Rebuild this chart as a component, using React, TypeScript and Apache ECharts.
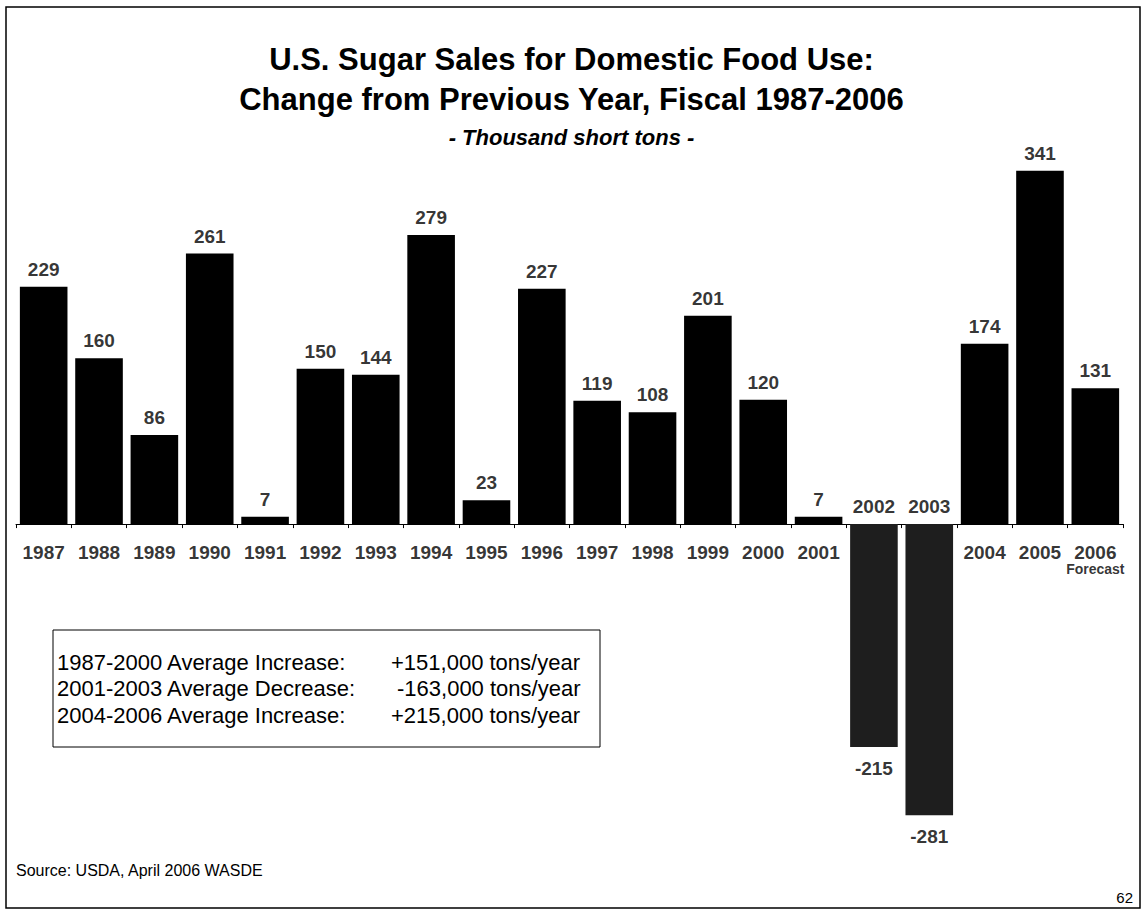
import React, { useEffect, useRef } from "react";
import * as echarts from "echarts";

const years = ["1987","1988","1989","1990","1991","1992","1993","1994","1995","1996","1997","1998","1999","2000","2001","2002","2003","2004","2005","2006"];
const changes = [229,160,86,261,7,150,144,279,23,227,119,108,201,120,7,-215,-281,174,341,131];
const forecastYear = "2006";
const forecastNote = "Forecast";
const titleLines = ["U.S. Sugar Sales for Domestic Food Use:", "Change from Previous Year, Fiscal 1987-2006"];
const subtitle = "- Thousand short tons -";
const summaryLabels = ["1987-2000 Average Increase:", "2001-2003 Average Decrease:", "2004-2006 Average Increase:"];
const summaryValues = ["+151,000 tons/year", "-163,000 tons/year", "+215,000 tons/year"];
const sourceText = "Source: USDA, April 2006 WASDE";
const pageNumber = "62";

const FONT = "'Liberation Sans', Arial, Helvetica, sans-serif";

export default function App() {
  const ref = useRef<HTMLDivElement>(null);
  useEffect(() => {
    document.body.style.margin = "0";
    const chart = echarts.init(ref.current!, null, { renderer: "svg" });
    const summaryGraphics: any[] = [];
    summaryLabels.forEach((t, i) => {
      summaryGraphics.push({
        type: "text", left: 57, top: 651 + i * 26.5,
        style: { text: t, font: `22px ${FONT}`, fill: "#000" },
      });
      summaryGraphics.push({
        type: "text", left: summaryValues[i].startsWith("-") ? 397 : 391, top: 651 + i * 26.5,
        style: { text: summaryValues[i], font: `22px ${FONT}`, fill: "#000" },
      });
    });
    const labelStyle = { color: "#000", fontSize: 19, fontWeight: "bold", fontFamily: FONT };
    chart.setOption({
      animation: false,
      backgroundColor: "#fff",
      textStyle: { fontFamily: FONT },
      title: [
        { text: titleLines[0], left: "center", top: 39, textStyle: { fontSize: 31, fontWeight: "bold", color: "#000", fontFamily: FONT } },
        { text: titleLines[1], left: "center", top: 79, textStyle: { fontSize: 31, fontWeight: "bold", color: "#000", fontFamily: FONT } },
        { text: subtitle, left: "center", top: 121, textStyle: { fontSize: 22, fontWeight: "bold", fontStyle: "italic", color: "#000", fontFamily: FONT } },
      ],
      grid: { left: 16, right: 20, top: 151, bottom: 76 },
      xAxis: {
        type: "category",
        data: years,
        axisLine: { onZero: true, lineStyle: { color: "#000", width: 1 } },
        axisTick: { show: true, length: 4, lineStyle: { color: "#000" } },
        axisLabel: { show: false },
      },
      yAxis: { type: "value", min: -300, max: 360, show: false, splitLine: { show: false } },
      graphic: [
        { type: "rect", shape: { x: 6, y: 7, width: 1134, height: 901 }, style: { fill: "none", stroke: "#000", lineWidth: 1.5 }, silent: true },
        { type: "rect", shape: { x: 53, y: 630, width: 547, height: 117 }, style: { fill: "#fff", stroke: "#000", lineWidth: 1 }, silent: true },
        ...summaryGraphics,
        { type: "text", left: 16, top: 862, style: { text: sourceText, font: `16px ${FONT}`, fill: "#000" } },
        { type: "text", right: 10, top: 890, style: { text: pageNumber, font: `15px ${FONT}`, fill: "#000" } },
      ],
      series: [
        {
          type: "bar",
          data: changes.map((v) => ({ value: v, itemStyle: { color: v < 0 ? "#1e1e1e" : "#000" } })),
          barCategoryGap: "14%",
          silent: true,
        },
        {
          type: "scatter",
          symbolSize: 0,
          silent: true,
          data: changes.map((v) => ({ value: v, label: { position: v < 0 ? "bottom" : "top", distance: v < 0 ? 12 : 8 } })),
          label: { show: true, formatter: "{c}", ...labelStyle },
          z: 5,
        },
        {
          type: "scatter",
          symbolSize: 0,
          silent: true,
          data: changes.map((v) => ({ value: 0, label: { position: v < 0 ? "top" : "bottom", distance: v < 0 ? 8 : 18 } })),
          label: {
            show: true,
            formatter: (p: any) => {
              const y = years[p.dataIndex];
              return y === forecastYear ? y + "\n{f|" + forecastNote + "}" : y;
            },
            ...labelStyle,
            lineHeight: 20,
            rich: { f: { fontSize: 14, fontWeight: "bold", fontFamily: FONT, color: "#000", lineHeight: 14 } },
          },
          z: 5,
        },
      ],
    });
    return () => chart.dispose();
  }, []);
  return <div ref={ref} style={{ width: 1143, height: 911 }} />;
}
